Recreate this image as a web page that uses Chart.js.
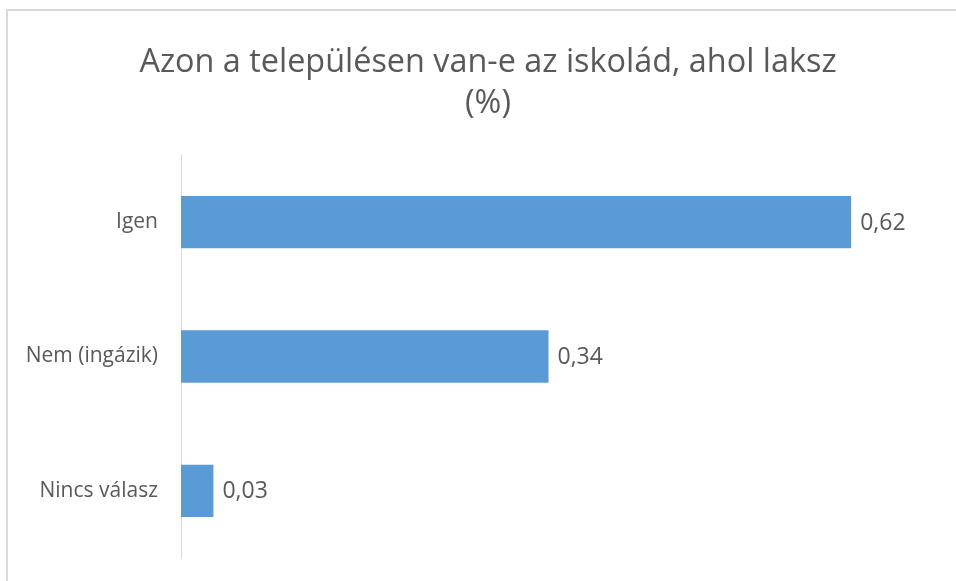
<!DOCTYPE html>
<html>
<head>
<meta charset="utf-8">
<script src="https://cdn.jsdelivr.net/npm/chart.js@4"></script>
<style>
  html, body { margin: 0; padding: 0; background: #fff; overflow: hidden; }
  #frame {
    position: absolute; left: 6px; top: 9px; width: 1200px; height: 900px;
    border-left: 2px solid #d9d9d9; border-top: 2px solid #d9d9d9;
  }
  #wrap { position: absolute; left: 0; top: 0; width: 956px; height: 581px; }
</style>
</head>
<body>
<div id="frame"></div>
<div id="wrap"><canvas id="chart" width="956" height="581"></canvas></div>
<script>
// --- data ---
const categories = ['Igen', 'Nem (ingázik)', 'Nincs válasz'];
const values = [0.62, 0.34, 0.03];
const titleLines = ['Azon a településen van-e az iskolád, ahol laksz', '(%)'];

const textColor = '#595959';
const fontFamily = '"Open Sans", "Noto Sans", sans-serif';

// value labels at the end of each bar, with decimal comma
const barLabels = {
    id: 'barLabels',
    afterDatasetsDraw(chart) {
        const ctx = chart.ctx;
        const meta = chart.getDatasetMeta(0);
        ctx.save();
        ctx.font = '23px ' + fontFamily;
        ctx.fillStyle = textColor;
        ctx.textBaseline = 'middle';
        ctx.textAlign = 'left';
        meta.data.forEach((bar, i) => {
            const txt = values[i].toFixed(2).replace('.', ',');
            ctx.fillText(txt, bar.x + 9, bar.y + 1);
        });
        ctx.restore();
    }
};

new Chart(document.getElementById('chart'), {
    type: 'bar',
    data: {
        labels: categories,
        datasets: [{
            data: values,
            backgroundColor: '#5b9bd5',
            borderWidth: 0,
            barPercentage: 0.39,
            categoryPercentage: 1
        }]
    },
    options: {
        indexAxis: 'y',
        responsive: false,
        animation: false,
        // left padding pushes the centred title to the right, as in the original
        layout: { padding: { left: 20, right: 0, top: 0, bottom: 23 } },
        plugins: {
            legend: { display: false },
            tooltip: { enabled: false },
            title: {
                display: true,
                text: titleLines,
                color: textColor,
                font: { family: fontFamily, size: 32.4, weight: 'normal', lineHeight: 1.25 },
                padding: { top: 43, bottom: 31 }
            }
        },
        scales: {
            x: {
                display: false,
                min: 0,
                max: 0.717
            },
            y: {
                afterFit: s => {
                    s.width = 161;
                    // tick padding would otherwise reserve space above/below the plot
                    s.paddingTop = 0;
                    s.paddingBottom = 0;
                },
                grid: { display: false, drawTicks: false },
                border: { display: true, color: '#d9d9d9', width: 1 },
                ticks: {
                    color: textColor,
                    padding: 23,
                    font: { family: fontFamily, size: 21 }
                }
            }
        }
    },
    plugins: [barLabels]
});
</script>
</body>
</html>
